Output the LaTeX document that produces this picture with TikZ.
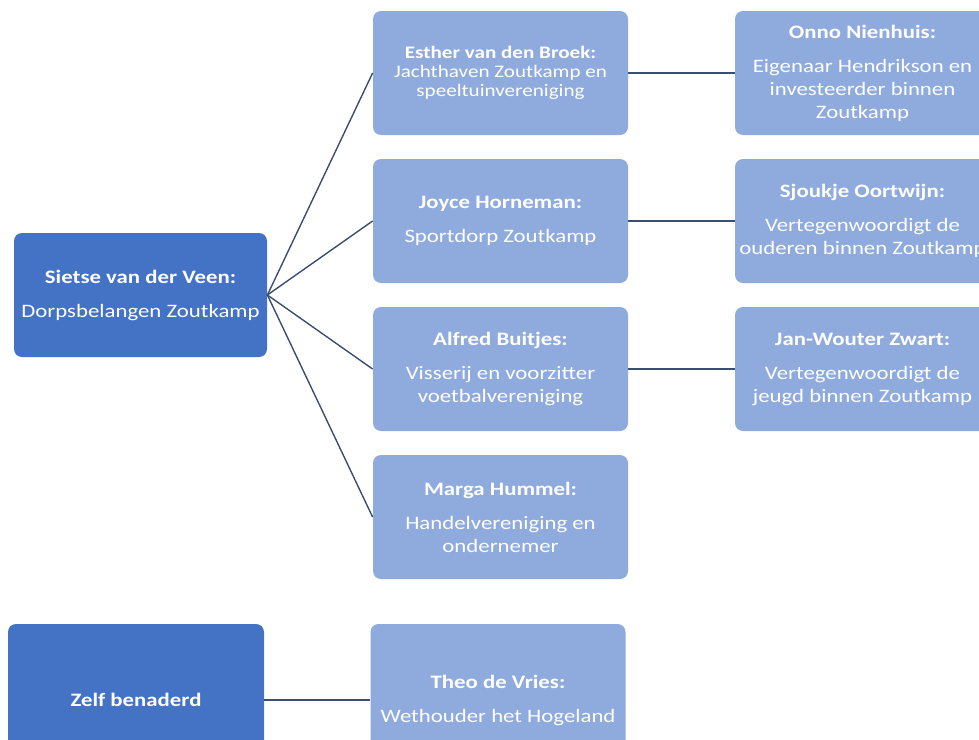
\documentclass[tikz,border=0pt]{standalone}
\usepackage{fontspec}
\setmainfont{Carlito}[FakeStretch=1.2]
\usepackage{tikz}
\usetikzlibrary{ % tikz packages
    positioning
}
\definecolor{darkbox}{HTML}{4472C4}
\definecolor{lightbox}{HTML}{8FAADC}
\definecolor{linkcol}{HTML}{3B4E70}
\tikzset{every box/.style={
    rectangle,rounded corners=4pt,
    text=white,align=center,
    font=\fontsize{9.5}{11.5}\selectfont,
    minimum width=127.5pt,minimum height=62pt,
    inner sep=1pt
}}
\tikzset{lead/.style={every box,fill=darkbox,minimum width=126.5pt}}
\tikzset{member/.style={every box,fill=lightbox}}
\tikzset{link/.style={draw=linkcol,line width=0.7pt}}
\newcommand{\who}[1]{\textbf{#1}\\[5.5pt]}

\begin{document}
\begin{tikzpicture}[x=0.5pt,y=-0.5pt,node distance=2cm,on grid]
        \useasboundingbox (0,0) rectangle (979,739);
        \clip (0,0) rectangle (979,739);

        \node[lead] (root) at (140.5,295) {\who{Sietse van der Veen:}Dorpsbelangen Zoutkamp};

        \node[member,font=\fontsize{8.8}{9.5}\selectfont] (esther) at (500.5,73)
            {\textbf{Esther van den Broek:}\\Jachthaven Zoutkamp en\\speeltuinvereniging};
        \node[member] (joyce) [below=74pt of esther] {\who{Joyce Horneman:}Sportdorp Zoutkamp};
        \node[member] (alfred) [below=74pt of joyce] {\who{Alfred Buitjes:}Visserij en voorzitter\\voetbalvereniging};
        \node[member] (marga) [below=74pt of alfred] {\who{Marga Hummel:}Handelvereniging en\\ondernemer};

        \node[member] (onno) [right=181pt of esther] {\who{Onno Nienhuis:}Eigenaar Hendrikson en\\investeerder binnen\\Zoutkamp};
        \node[member] (sjoukje) [right=181pt of joyce] {\who{Sjoukje Oortwijn:}Vertegenwoordigt de\\ouderen binnen Zoutkamp};
        \node[member] (janwouter) [right=181pt of alfred] {\who{Jan-Wouter Zwart:}Vertegenwoordigt de\\jeugd binnen Zoutkamp};

        \node[lead,minimum width=128pt,minimum height=76pt] (zelf) at (136,700) {\textbf{Zelf benaderd}};
        \node[member,minimum height=76pt] (theo) [right=181pt of zelf] {\who{Theo de Vries:}Wethouder het Hogeland};

        \path[link]
            (root.east)
                edge (esther.west)
                edge (joyce.west)
                edge (alfred.west)
                edge (marga.west)
            (esther) edge (onno)
            (joyce) edge (sjoukje)
            (alfred) edge (janwouter)
            (zelf) edge (theo);
    \end{tikzpicture}
\end{document}
